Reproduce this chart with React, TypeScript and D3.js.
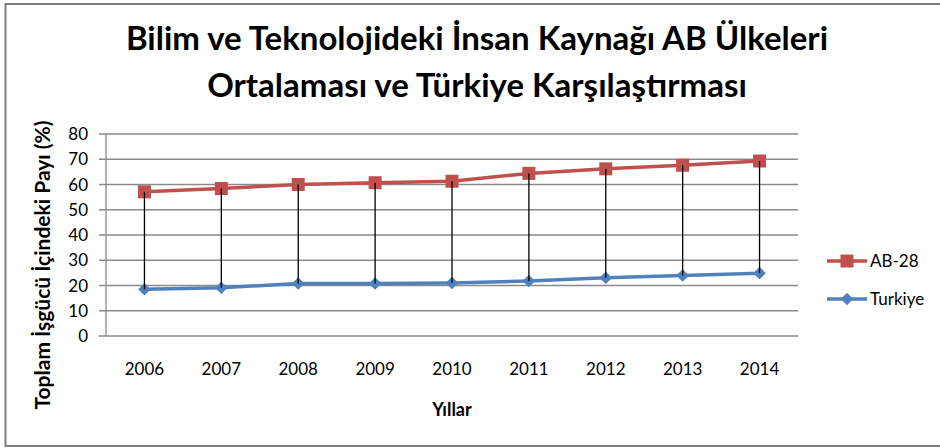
import React, { useRef, useEffect } from "react";
import * as d3 from "d3";

const years = ["2006", "2007", "2008", "2009", "2010", "2011", "2012", "2013", "2014"];
const ab28 = [57.1, 58.4, 60.0, 60.7, 61.3, 64.4, 66.2, 67.6, 69.3];
const turkiye = [18.5, 19.1, 20.8, 20.8, 21.0, 21.8, 23.1, 24.0, 24.9];
const yTicks = [0, 10, 20, 30, 40, 50, 60, 70, 80];

const FONT = "Lato, 'Open Sans', sans-serif";

const App = () => {
  const svgRef = useRef<SVGSVGElement>(null);

  useEffect(() => {
    const svg = d3.select(svgRef.current);
    svg.selectAll("*").remove(); // очистка

    const width = 940;
    const height = 448;
    const m = { left: 106, right: 798, top: 134, bottom: 336 };

    svg.attr("width", width).attr("height", height).style("display", "block");

    // рамка (правый край обрезан)
    svg.append("path")
      .attr("d", "M945,4 H5.5 V446 H945")
      .attr("fill", "none")
      .attr("stroke", "#7f7f7f")
      .attr("stroke-width", 2);

    const x = d3.scaleBand().domain(years).range([m.left, m.right]);
    const y = d3.scaleLinear().domain([0, 80]).range([m.bottom, m.top]);
    const cx = (d: string) => x(d)! + x.bandwidth() / 2;

    // сетка
    svg.append("g")
      .selectAll("line")
      .data(yTicks)
      .enter()
      .append("line")
      .attr("x1", m.left - 7)
      .attr("x2", m.right)
      .attr("y1", d => y(d))
      .attr("y2", d => y(d))
      .attr("stroke", "#8a8a8a")
      .attr("stroke-width", 1.3);

    // ось Y
    svg.append("line")
      .attr("x1", m.left).attr("x2", m.left)
      .attr("y1", m.top).attr("y2", m.bottom)
      .attr("stroke", "#8a8a8a")
      .attr("stroke-width", 1.3);

    // подписи оси Y
    svg.append("g")
      .selectAll("text")
      .data(yTicks)
      .enter()
      .append("text")
      .attr("x", 88)
      .attr("y", d => y(d))
      .attr("dy", "0.36em")
      .attr("text-anchor", "end")
      .style("font-family", FONT)
      .style("font-size", "17px")
      .attr("fill", "#000")
      .text(d => d);

    // подписи оси X
    svg.append("g")
      .selectAll("text")
      .data(years)
      .enter()
      .append("text")
      .attr("x", d => cx(d))
      .attr("y", 375)
      .attr("text-anchor", "middle")
      .style("font-family", FONT)
      .style("font-size", "17px")
      .attr("fill", "#000")
      .text(d => d);

    const line = d3.line<number>()
      .x((d, i) => cx(years[i]))
      .y(d => y(d));

    // Turkiye
    svg.append("path")
      .attr("d", line(turkiye))
      .attr("fill", "none")
      .attr("stroke", "#4F81BD")
      .attr("stroke-width", 3.5);

    svg.append("g")
      .selectAll("path")
      .data(turkiye)
      .enter()
      .append("path")
      .attr("d", d3.symbol().type(d3.symbolDiamond2).size(100))
      .attr("transform", (d, i) => `translate(${cx(years[i])},${y(d)})`)
      .attr("fill", "#4F81BD");

    // AB-28
    svg.append("path")
      .attr("d", line(ab28))
      .attr("fill", "none")
      .attr("stroke", "#C0504D")
      .attr("stroke-width", 3.5);

    svg.append("g")
      .selectAll("rect")
      .data(ab28)
      .enter()
      .append("rect")
      .attr("x", (d, i) => cx(years[i]) - 6.5)
      .attr("y", d => y(d) - 6.5)
      .attr("width", 13)
      .attr("height", 13)
      .attr("fill", "#C0504D");

    // вертикальные линии поверх маркеров
    svg.append("g")
      .selectAll("line")
      .data(years)
      .enter()
      .append("line")
      .attr("x1", d => cx(d))
      .attr("x2", d => cx(d))
      .attr("y1", (d, i) => y(ab28[i]))
      .attr("y2", (d, i) => y(turkiye[i]))
      .attr("stroke", "#000")
      .attr("stroke-width", 1.3);

    // легенда
    const legend = [
      { name: "AB-28", color: "#C0504D", y: 261, marker: "square" },
      { name: "Turkiye", color: "#4F81BD", y: 299, marker: "diamond" },
    ];
    const lg = svg.append("g");
    legend.forEach(l => {
      lg.append("line")
        .attr("x1", 827).attr("x2", 867)
        .attr("y1", l.y).attr("y2", l.y)
        .attr("stroke", l.color)
        .attr("stroke-width", 3.5);
      if (l.marker === "square") {
        lg.append("rect")
          .attr("x", 840.5).attr("y", l.y - 6.5)
          .attr("width", 13).attr("height", 13)
          .attr("fill", l.color);
      } else {
        lg.append("path")
          .attr("d", d3.symbol().type(d3.symbolDiamond2).size(100))
          .attr("transform", `translate(847,${l.y})`)
          .attr("fill", l.color);
      }
      lg.append("text")
        .attr("x", 870)
        .attr("y", l.y)
        .attr("dy", "0.36em")
        .style("font-family", FONT)
        .style("font-size", "17px")
        .text(l.name);
    });

    // заголовок
    const title = ["Bilim ve Teknolojideki İnsan Kaynağı AB Ülkeleri", "Ortalaması ve Türkiye Karşılaştırması"];
    svg.append("g")
      .selectAll("text")
      .data(title)
      .enter()
      .append("text")
      .attr("x", 477)
      .attr("y", (d, i) => 50 + i * 47)
      .attr("text-anchor", "middle")
      .style("font-family", FONT)
      .style("font-size", "33px")
      .style("font-weight", "bold")
      .text(d => d);

    // названия осей
    svg.append("text")
      .attr("x", 452)
      .attr("y", 416)
      .attr("text-anchor", "middle")
      .style("font-family", FONT)
      .style("font-size", "18px")
      .style("font-weight", "bold")
      .text("Yıllar");

    svg.append("text")
      .attr("transform", "translate(50,265) rotate(-90)")
      .attr("text-anchor", "middle")
      .style("font-family", FONT)
      .style("font-size", "21px")
      .style("font-weight", "bold")
      .text("Toplam İşgücü İçindeki Payı (%)");
  }, []);

  return (
    <div style={{ position: "fixed", left: 0, top: 0, width: 940, height: 448, overflow: "hidden", background: "white" }}>
      <svg ref={svgRef}></svg>
    </div>
  );
};

export default App;
